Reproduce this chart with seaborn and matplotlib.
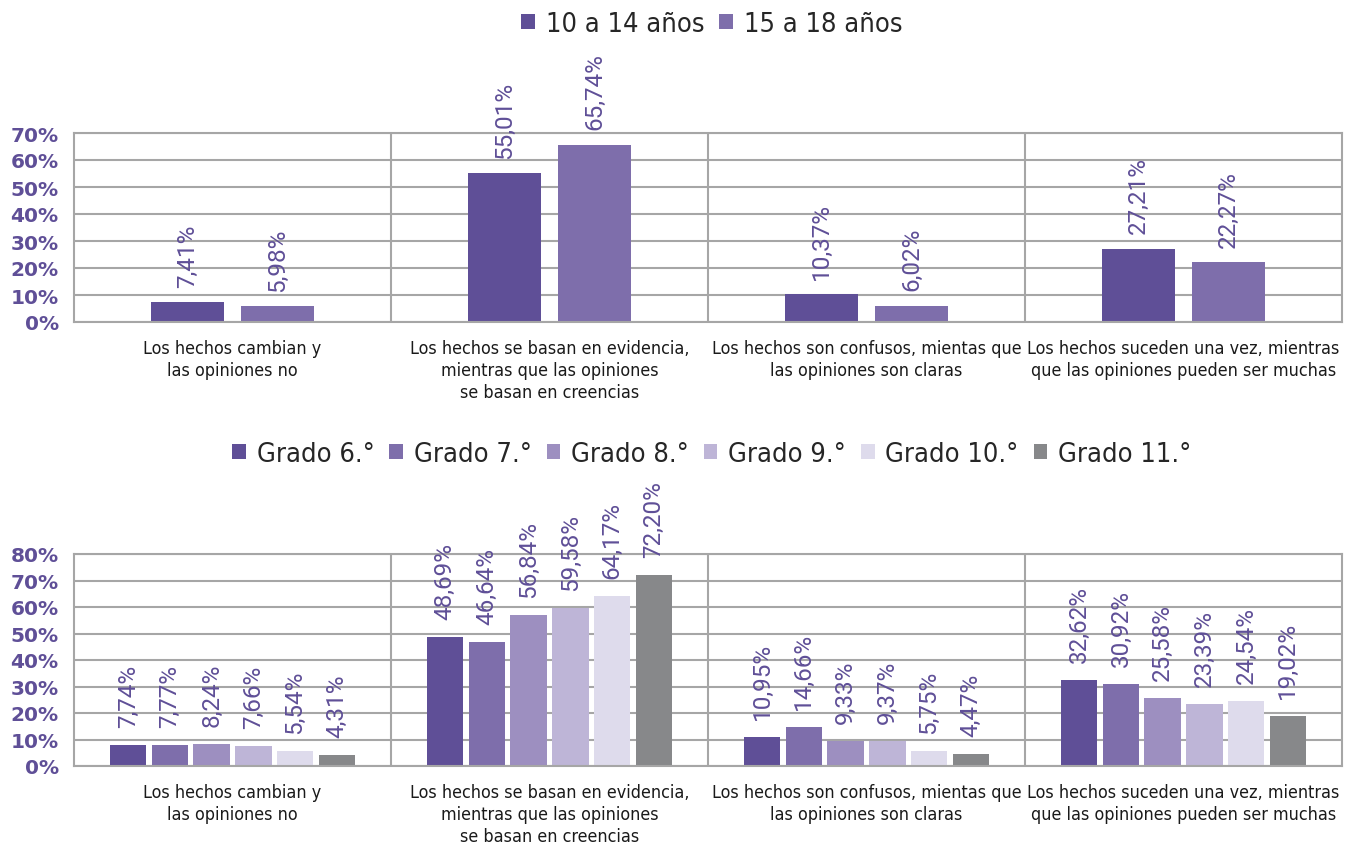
import matplotlib
matplotlib.use("Agg")
import matplotlib.pyplot as plt
import seaborn as sns
import pandas as pd

# ---------------- data ----------------
categories = [
    "Los hechos cambian y\nlas opiniones no",
    "Los hechos se basan en evidencia,\nmientras que las opiniones\nse basan en creencias",
    "Los hechos son confusos, mientas que\nlas opiniones son claras",
    "Los hechos suceden una vez, mientras\nque las opiniones pueden ser muchas",
]
age_groups = ["10 a 14 años", "15 a 18 años"]
age_10_14 = [7.41, 55.01, 10.37, 27.21]
age_15_18 = [5.98, 65.74, 6.02, 22.27]

grades = ["Grado 6.°", "Grado 7.°", "Grado 8.°", "Grado 9.°", "Grado 10.°", "Grado 11.°"]
grado_6 = [7.74, 48.69, 10.95, 32.62]
grado_7 = [7.77, 46.64, 14.66, 30.92]
grado_8 = [8.24, 56.84, 9.33, 25.58]
grado_9 = [7.66, 59.58, 9.37, 23.39]
grado_10 = [5.54, 64.17, 5.75, 24.54]
grado_11 = [4.31, 72.20, 4.47, 19.02]

top_ticks = [0, 10, 20, 30, 40, 50, 60, 70]
bottom_ticks = [0, 10, 20, 30, 40, 50, 60, 70, 80]

age_colors = ["#5F4F97", "#7E6EAB"]
grade_colors = ["#5F4F97", "#7E6EAB", "#9D8FC0", "#BEB5D7", "#DEDBEC", "#87888A"]

def long_df(groups, series):
    rows = []
    for g, vals in zip(groups, series):
        for c, v in zip(categories, vals):
            rows.append({"cat": c, "group": g, "value": v})
    return pd.DataFrame(rows)

df_age = long_df(age_groups, [age_10_14, age_15_18])
df_grade = long_df(grades, [grado_6, grado_7, grado_8, grado_9, grado_10, grado_11])

# ---------------- style ----------------
sns.set_theme(style="white")
GRID = "#A6A6A6"
PURPLE = "#5F4F97"
plt.rcParams["font.family"] = ["DejaVu Sans"]

W, H = 1355, 853
fig = plt.figure(figsize=(W / 100, H / 100), dpi=100)
ax1 = fig.add_axes([74 / W, 1 - 323 / H, (1342 - 74) / W, (323 - 134) / H])
ax2 = fig.add_axes([74 / W, 1 - 767 / H, (1342 - 74) / W, (767 - 555) / H])


def draw(ax, df, groups, colors, width, gap, ticks, leg_y, label_pad):
    sns.barplot(data=df, x="cat", y="value", hue="group", order=categories,
                hue_order=groups, palette=colors, width=width, gap=gap,
                ax=ax, legend=True, saturation=1, linewidth=0)
    ax.set_ylim(0, ticks[-1])
    ax.set_xlim(-0.5, len(categories) - 0.5)
    ax.set_yticks(ticks)
    ax.set_yticklabels([f"{t}%" for t in ticks], fontsize=14.5,
                       fontweight="bold", color=PURPLE)
    ax.set_xticks(range(len(categories)))
    ax.set_xticklabels(categories, fontsize=12.9, color="#1A1A1A",
                       fontstretch="condensed", linespacing=1.28)
    ax.tick_params(axis="x", length=0, pad=12)
    ax.tick_params(axis="y", length=0, pad=11)
    ax.set_xlabel("")
    ax.set_ylabel("")
    ax.yaxis.grid(True, color=GRID, linewidth=1.5)
    ax.set_axisbelow(True)
    for x in [0.5, 1.5, 2.5]:
        ax.axvline(x, color=GRID, linewidth=1.5, zorder=0.5)
    for s in ax.spines.values():
        s.set_color(GRID)
        s.set_linewidth(1.5)
        s.set_visible(True)
    for cont in ax.containers:
        for bar in cont:
            v = bar.get_height()
            ax.annotate(f"{v:.2f}".replace(".", ",") + "%",
                        (bar.get_x() + bar.get_width() / 2, v),
                        xytext=(0, label_pad), textcoords="offset points",
                        rotation=90, ha="center", va="bottom",
                        fontsize=17.5, color=PURPLE, family=["Roboto", "DejaVu Sans"],
                        fontweight="normal", annotation_clip=False)
    sns.move_legend(ax, "center", bbox_to_anchor=(0.503, leg_y), ncol=len(groups),
                    frameon=False, title=None,
                    prop={"family": "DejaVu Sans", "size": 19.5, "stretch": "condensed"},
                    handlelength=0.5, handleheight=0.5, handletextpad=0.4,
                    columnspacing=0.55)


draw(ax1, df_age, age_groups, age_colors, 0.57, 0.19, top_ticks, (323 - 25) / 189, 11)
draw(ax2, df_grade, grades, grade_colors, 0.79, 0.13, bottom_ticks, (767 - 455) / 212, 13)

fig.savefig("out.png", dpi=100, facecolor="white")
